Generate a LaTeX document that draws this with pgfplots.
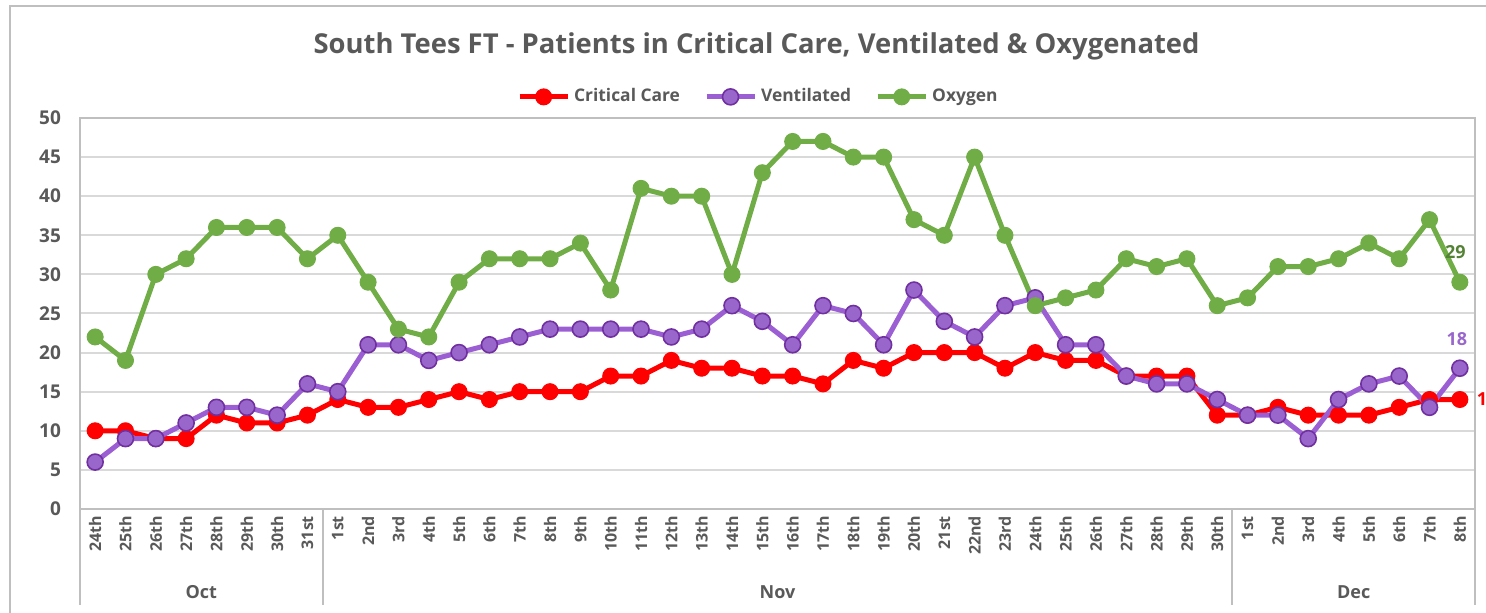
\documentclass[border=0pt]{standalone}
\usepackage{pgfplots}
\usepackage{pgfplotstable}
\pgfplotsset{compat=1.18}
\usepackage{fontspec}
\setmainfont{Open Sans}
\definecolor{cc}{HTML}{FF0000}
\definecolor{vline}{HTML}{9B5FD3}
\definecolor{vfill}{HTML}{9966CC}
\definecolor{vedge}{HTML}{7030A0}
\definecolor{oxy}{HTML}{70AD47}
\definecolor{oxydark}{HTML}{548235}
\definecolor{txt}{HTML}{595959}
\definecolor{gridc}{HTML}{D9D9D9}
\definecolor{borderc}{HTML}{BFBFBF}

\pgfplotstableread{
x cc vent oxy
0 10 6 22
1 10 9 19
2 9 9 30
3 9 11 32
4 12 13 36
5 11 13 36
6 11 12 36
7 12 16 32
8 14 15 35
9 13 21 29
10 13 21 23
11 14 19 22
12 15 20 29
13 14 21 32
14 15 22 32
15 15 23 32
16 15 23 34
17 17 23 28
18 17 23 41
19 19 22 40
20 18 23 40
21 18 26 30
22 17 24 43
23 17 21 47
24 16 26 47
25 19 25 45
26 18 21 45
27 20 28 37
28 20 24 35
29 20 22 45
30 18 26 35
31 20 27 26
32 19 21 27
33 19 21 28
34 17 17 32
35 17 16 31
36 17 16 32
37 12 14 26
38 12 12 27
39 13 12 31
40 12 9 31
41 12 14 32
42 12 16 34
43 13 17 32
44 14 13 37
45 14 18 29
}\datatable

\begin{document}
\begin{tikzpicture}
\path[use as bounding box] (-40pt,-52pt) rectangle (703pt,254.5pt);
\draw[borderc, line width=0.8pt] (-35pt,-60pt) rectangle (720pt,251.5pt);
\begin{axis}[
  at={(0pt,0pt)}, anchor=south west,
  scale only axis, width=697.5pt, height=195.5pt,
  xmin=-0.5, xmax=45.5, ymin=0, ymax=50,
  ytick={0,5,...,50},
  xtick={0,...,45},
  xticklabels={24th,25th,26th,27th,28th,29th,30th,31st,
    1st,2nd,3rd,4th,5th,6th,7th,8th,9th,10th,11th,12th,13th,14th,15th,16th,17th,18th,19th,20th,21st,22nd,23rd,24th,25th,26th,27th,28th,29th,30th,
    1st,2nd,3rd,4th,5th,6th,7th,8th},
  x tick label style={rotate=90, anchor=east, font=\fontsize{8}{9}\selectfont\bfseries, text=txt, yshift=0pt},
  y tick label style={font=\fontsize{9.5}{11}\selectfont\bfseries, text=txt, xshift=-6pt},
  /pgf/number format/assume math mode=true,
  xtick style={draw=none}, ytick style={draw=none},
  ymajorgrids, grid style={gridc, line width=1pt},
  axis line style={borderc, line width=1pt},
  clip=false,
  legend columns=3,
  legend style={draw=none, fill=none, at={(0.487,1.054)}, anchor=center,
    font=\fontsize{8.7}{11}\selectfont\bfseries, text=txt,
    /tikz/every even column/.append style={column sep=10pt}},
  legend image code/.code={\draw[mark repeat=2,mark phase=2] plot coordinates {(0pt,0pt) (12pt,0pt) (24pt,0pt)};},
]
\addplot[cc, line width=2.5pt, mark=*, mark size=4pt, mark options={fill=cc, draw=cc, line width=0.5pt}] table[x=x,y=cc] {\datatable};
\addlegendentry{Critical Care}
\addplot[vline, line width=2.5pt, mark=*, mark size=4pt, mark options={fill=vfill, draw=vedge, line width=0.8pt}] table[x=x,y=vent] {\datatable};
\addlegendentry{Ventilated}
\addplot[oxy, line width=2.5pt, mark=*, mark size=4pt, mark options={fill=oxy, draw=oxy, line width=0.5pt}] table[x=x,y=oxy] {\datatable};
\addlegendentry{Oxygen}

\node[font=\fontsize{9}{11}\selectfont\bfseries, text=oxydark] at (axis cs:44.85,29) [yshift=15pt] {29};
\node[font=\fontsize{9}{11}\selectfont\bfseries, text=vfill] at (axis cs:44.9,18) [yshift=14.5pt] {18};
\node[font=\fontsize{9}{11}\selectfont\bfseries, text=cc, anchor=west] at (axis cs:45,14) [xshift=5pt] {14};

\draw[borderc, line width=1pt] (axis cs:-0.5,0) -- ++(0pt,-48pt);
\draw[borderc, line width=1pt] (axis cs:7.5,0) -- ++(0pt,-48pt);
\draw[borderc, line width=1pt] (axis cs:37.5,0) -- ++(0pt,-48pt);
\draw[borderc, line width=1pt] (axis cs:45.5,0) -- ++(0pt,-48pt);
\node[font=\fontsize{9}{11}\selectfont\bfseries, text=txt] at (axis cs:3.5,0) [yshift=-41.5pt] {Oct};
\node[font=\fontsize{9}{11}\selectfont\bfseries, text=txt] at (axis cs:22.5,0) [yshift=-41.5pt] {Nov};
\node[font=\fontsize{9}{11}\selectfont\bfseries, text=txt] at (axis cs:41.5,0) [yshift=-41.5pt] {Dec};

\node[font=\fontsize{13.7}{16}\selectfont\bfseries, text=txt] at (rel axis cs:0.485,1.182) {South Tees FT - Patients in Critical Care, Ventilated \& Oxygenated};
\end{axis}
\end{tikzpicture}
\end{document}
